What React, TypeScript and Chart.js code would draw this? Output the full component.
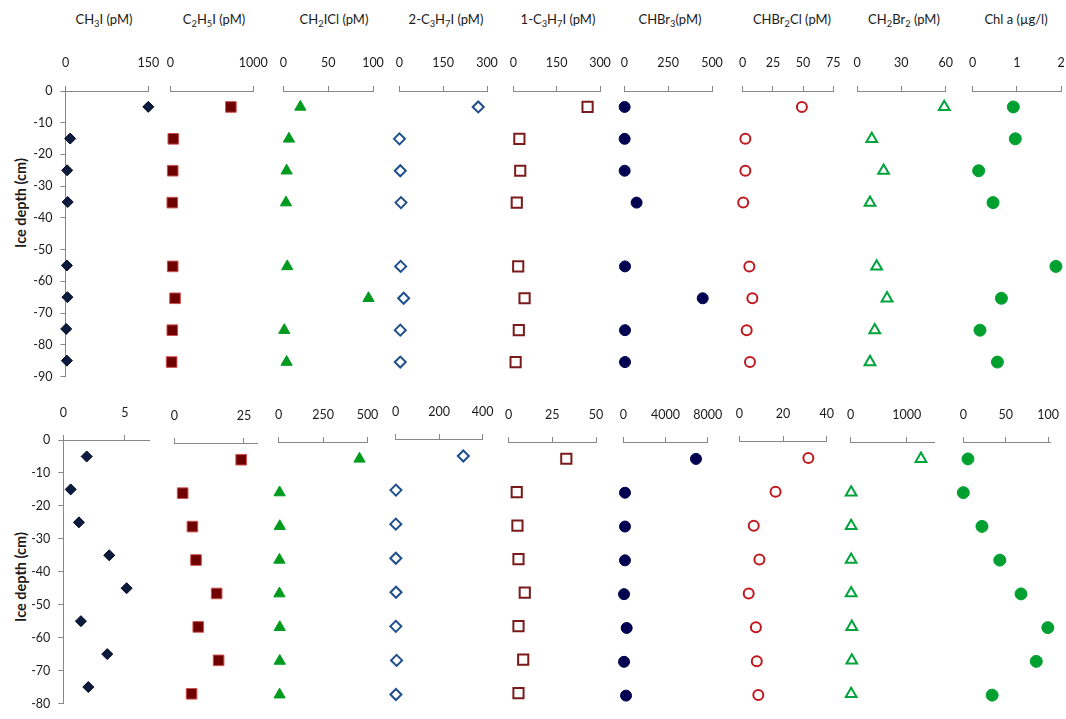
import React, { useEffect, useRef } from 'react';
import { Chart, registerables } from 'chart.js';

Chart.register(...registerables);

const FONT = 'Lato, "Open Sans", sans-serif';
const AXIS_GREY = '#878787';
const TEXT = '#1a1a1a';

// Sampled ice-core section mid-depths (cm)
const depthsUpper = [-5, -15, -25, -35, -55, -65, -75, -85];
const depthsLower = [-5, -15, -25, -35, -45, -55, -65, -75];

// Panel titles; tokens starting with "_" are subscripts
const titles: string[][] = [
  ['CH', '_3', 'I (pM)'],
  ['C', '_2', 'H', '_5', 'I (pM)'],
  ['CH', '_2', 'ICl (pM)'],
  ['2-C', '_3', 'H', '_7', 'I (pM)'],
  ['1-C', '_3', 'H', '_7', 'I (pM)'],
  ['CHBr', '_3', '(pM)'],
  ['CHBr', '_2', 'Cl (pM)'],
  ['CH', '_2', 'Br', '_2', ' (pM)'],
  ['Chl a (µg/l)'],
];

// Upper profile concentrations
const ch3iUpper = [150, 8.5, 3, 4, 2.5, 3.5, 1.3, 2.5];
const c2h5iUpper = [730, 36, 29, 24, 29, 57, 24, 16];
const ch2iclUpper = [19, 6.3, 3.7, 3, 4.4, 95, 1.1, 3.7];
const iso3iUpper = [270, 0.5, 3.4, 5.7, 4.6, 15, 3.4, 3.4];
const n3iUpper = [257, 21, 24, 12, 17, 39, 19, 8];
const chbr3Upper = [2, 2, 2, 70, 4, 447, 4, 4];
const chbr2clUpper = [49, 2.2, 2.2, 0.4, 5.5, 8, 3.3, 6];
const ch2br2Upper = [59, 10, 18, 8.8, 13.3, 20.3, 12, 8.8];
const chlUpper = [0.92, 0.965, 0.135, 0.46, 1.885, 0.65, 0.165, 0.56];

// Lower profile concentrations
const ch3iLower = [1.9, 0.6, 1.27, 3.73, 5.14, 1.43, 3.57, 2.03];
const c2h5iLower = [24, 3, 6.5, 7.8, 15.2, 8.6, 15.9, 6.2];
const ch2iclLower = [455, 5, 6, 4, 4, 6, 6, 5];
const iso3iLower = [311, 1, 0.5, 0.5, 1.5, 0.5, 4, 1];
const n3iLower = [33, 4.6, 5, 5.6, 9.2, 5.6, 8.3, 5.6];
const chbr3Lower = [6890, 160, 160, 160, 70, 320, 70, 260];
const chbr2clLower = [31.6, 16.6, 6.6, 9.2, 4.3, 7.6, 8, 8.7];
const ch2br2Lower = [1255, 8, 8, 8, 8, 20, 20, 8];
const chlLower = [5.5, 0, 22, 43, 68, 99.6, 86, 34];

// Axis ranges [max, step]
const upperRanges = [[150, 150], [1000, 1000], [100, 50], [300, 150], [300, 150], [500, 250], [75, 25], [60, 30], [2, 1]];
const lowerRanges = [[7, 5], [30, 25], [500, 250], [400, 200], [50, 25], [8000, 4000], [40, 20], [1500, 1000], [103, 50]];

const upperSeries = [ch3iUpper, c2h5iUpper, ch2iclUpper, iso3iUpper, n3iUpper, chbr3Upper, chbr2clUpper, ch2br2Upper, chlUpper];
const lowerSeries = [ch3iLower, c2h5iLower, ch2iclLower, iso3iLower, n3iLower, chbr3Lower, chbr2clLower, ch2br2Lower, chlLower];

// Panel placement (page px)
const upperX0 = [65.5, 170.3, 283.3, 399.3, 513.3, 624.3, 742.7, 857, 972.7];
const upperX1 = [148.3, 253.3, 373, 487, 600, 712, 833.3, 945.7, 1061];
const lowerX0 = [63.3, 174.3, 278.7, 395.7, 508.7, 623.3, 739.3, 850.7, 963.3];
const lowerX1 = [149.5, 257.9, 367.5, 482.7, 596, 707.7, 826.7, 934.7, 1050.7];
const lowerTop = [440, 443, 442, 439, 442, 442, 441, 442, 442];
const titleCenters = [104, 214, 334, 446, 558, 670, 792, 904, 1016];

type Marker = { style: string; r: number; fill: string; stroke: string; bw: number };
const markers: Marker[] = [
  { style: 'rectRot', r: 5.5, fill: '#0c1a3e', stroke: '#000820', bw: 1 },
  { style: 'rect', r: 7.5, fill: '#6e0000', stroke: '#d05050', bw: 1 },
  { style: 'triangle', r: 6.5, fill: '#009a1f', stroke: '#009a1f', bw: 1 },
  { style: 'rectRot', r: 5.5, fill: '#ffffff', stroke: '#1f4e8c', bw: 2 },
  { style: 'rect', r: 7.2, fill: '#ffffff', stroke: '#7a1a1a', bw: 2 },
  { style: 'circle', r: 5.5, fill: '#000050', stroke: '#000050', bw: 1 },
  { style: 'circle', r: 5, fill: '#ffffff', stroke: '#c0181c', bw: 2 },
  { style: 'triangle', r: 6.2, fill: '#ffffff', stroke: '#00a33c', bw: 2 },
  { style: 'circle', r: 6, fill: '#00a030', stroke: '#00a030', bw: 1 },
];

type PanelCfg = {
  values: number[];
  depths: number[];
  max: number;
  step: number;
  x0: number;
  x1: number;
  yTop: number;
  yBot: number;
  yMin: number;
  canvasTop: number;
  canvasBottom: number;
  showY: boolean;
  marker: Marker;
  labelPad: number;
};

const SIDE_PAD = 45;

function ProfilePanel({ cfg }: { cfg: PanelCfg }) {
  const ref = useRef<HTMLCanvasElement | null>(null);
  const left = cfg.showY ? 0 : Math.floor(cfg.x0 - SIDE_PAD);
  const width = Math.ceil(cfg.x1 + SIDE_PAD) - left;
  const height = cfg.canvasBottom - cfg.canvasTop;

  useEffect(() => {
    const canvas = ref.current;
    if (!canvas) return;
    const m = cfg.marker;
    const tickValues: number[] = [];
    for (let v = 0; v <= cfg.max + 1e-9; v += cfg.step) tickValues.push(v);
    const chart = new Chart(canvas, {
      type: 'scatter',
      data: {
        datasets: [
          {
            data: cfg.values.map((v, i) => ({ x: v, y: cfg.depths[i] })),
            pointStyle: m.style as any,
            pointRadius: m.r,
            pointHoverRadius: m.r,
            pointBackgroundColor: m.fill,
            pointBorderColor: m.stroke,
            pointBorderWidth: m.bw,
            showLine: false,
            clip: false as any,
          },
        ],
      },
      options: {
        animation: false,
        responsive: false,
        devicePixelRatio: 1,
        events: [],
        layout: {
          padding: {
            left: cfg.showY ? 0 : cfg.x0 - left,
            right: left + width - cfg.x1,
            top: 0,
            bottom: cfg.canvasBottom - cfg.yBot,
          },
        },
        plugins: { legend: { display: false }, tooltip: { enabled: false } },
        scales: {
          x: {
            type: 'linear',
            position: 'top',
            min: 0,
            max: cfg.max,
            afterBuildTicks: (s: any) => {
              s.ticks = tickValues.map((value) => ({ value }));
            },
            afterFit: (s: any) => {
              s.height = cfg.yTop - cfg.canvasTop;
            },
            grid: { drawOnChartArea: false, drawTicks: true, tickLength: 5, color: AXIS_GREY },
            border: { display: true, color: AXIS_GREY, width: 1 },
            ticks: {
              maxRotation: 0,
              autoSkip: false,
              padding: cfg.labelPad,
              color: TEXT,
              font: { family: FONT, size: 12.5 },
              callback: (v: any) => String(v),
            },
          },
          y: {
            type: 'linear',
            display: cfg.showY,
            min: cfg.yMin,
            max: 0,
            afterFit: (s: any) => {
              s.width = cfg.showY ? cfg.x0 : 0;
            },
            grid: { drawOnChartArea: false, drawTicks: true, tickLength: 5, color: AXIS_GREY },
            border: { display: true, color: AXIS_GREY, width: 1 },
            ticks: {
              stepSize: 10,
              padding: 8,
              color: TEXT,
              font: { family: FONT, size: 12.5 },
              callback: (v: any) => String(v),
            },
          },
        },
      } as any,
    });
    return () => chart.destroy();
  }, []);

  return (
    <canvas
      ref={ref}
      width={width}
      height={height}
      style={{ position: 'absolute', left, top: cfg.canvasTop, width, height }}
    />
  );
}

function Title({ tokens, cx }: { tokens: string[]; cx: number }) {
  return (
    <div
      style={{
        position: 'absolute',
        left: cx,
        top: 11,
        transform: 'translateX(-50%)',
        whiteSpace: 'pre',
        fontFamily: FONT,
        fontSize: 13,
        color: TEXT,
        lineHeight: '16px',
      }}
    >
      {tokens.map((t, i) =>
        t.startsWith('_') ? (
          <span key={i} style={{ fontSize: '0.72em', position: 'relative', top: '0.35em' }}>
            {t.slice(1)}
          </span>
        ) : (
          <span key={i}>{t}</span>
        )
      )}
    </div>
  );
}

function DepthTitle({ cy }: { cy: number }) {
  return (
    <div
      style={{
        position: 'absolute',
        left: 20,
        top: cy,
        transform: 'translate(-50%, -50%) rotate(-90deg)',
        whiteSpace: 'nowrap',
        fontFamily: FONT,
        fontWeight: 700,
        fontSize: 14.5,
        color: TEXT,
      }}
    >
      Ice depth (cm)
    </div>
  );
}

export default function App() {
  const upper: PanelCfg[] = upperSeries.map((values, i) => ({
    values,
    depths: depthsUpper,
    max: upperRanges[i][0],
    step: upperRanges[i][1],
    x0: upperX0[i],
    x1: upperX1[i],
    yTop: 91,
    yBot: 378,
    yMin: -90,
    canvasTop: 0,
    canvasBottom: 392,
    showY: i === 0,
    marker: markers[i],
    labelPad: 16,
  }));
  const lower: PanelCfg[] = lowerSeries.map((values, i) => ({
    values,
    depths: depthsLower,
    max: lowerRanges[i][0],
    step: lowerRanges[i][1],
    x0: lowerX0[i],
    x1: lowerX1[i],
    yTop: lowerTop[i],
    yBot: lowerTop[i] + 273,
    yMin: -80,
    canvasTop: 385,
    canvasBottom: 719,
    showY: i === 0,
    marker: markers[i],
    labelPad: 15,
  }));

  return (
    <div
      style={{
        position: 'absolute',
        left: 0,
        top: 0,
        width: 1066,
        height: 719,
        overflow: 'hidden',
        background: '#ffffff',
      }}
    >
      {titles.map((t, i) => (
        <Title key={i} tokens={t} cx={titleCenters[i]} />
      ))}
      <DepthTitle cy={203} />
      <DepthTitle cy={577} />
      {upper.map((c, i) => (
        <ProfilePanel key={'u' + i} cfg={c} />
      ))}
      {lower.map((c, i) => (
        <ProfilePanel key={'l' + i} cfg={c} />
      ))}
    </div>
  );
}
